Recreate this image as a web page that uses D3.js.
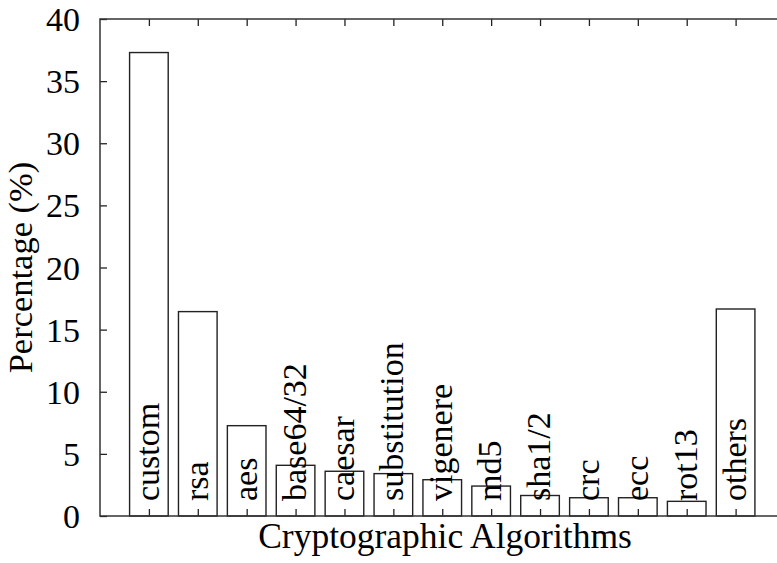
<!DOCTYPE html>
<html>
<head>
<meta charset="utf-8">
<script src="https://cdn.jsdelivr.net/npm/d3@7"></script>
<style>
  html, body { margin: 0; padding: 0; background: #fff; }
  svg { display: block; }
  text { font-family: "Liberation Serif", "Times New Roman", serif; fill: #000; }
</style>
</head>
<body>
<svg id="chart" width="777" height="563"></svg>
<script>
// Share of each cryptographic algorithm (%)
const categories = ["custom", "rsa", "aes", "base64/32", "caesar", "substitution",
  "vigenere", "md5", "sha1/2", "crc", "ecc", "rot13", "others"];
const percentages = [37.3, 16.45, 7.27, 4.08, 3.6, 3.41, 2.92, 2.41, 1.65, 1.47, 1.47, 1.18, 16.66];
const yTicks = [0, 5, 10, 15, 20, 25, 30, 35, 40];
const xTitle = "Cryptographic Algorithms";
const yTitle = "Percentage (%)";

(function draw() {
  const svg = d3.select("#chart");
  const plotL = 100, plotR = 784.5, plotT = 19, plotB = 516;
  const fontSize = 34;
  const tickLen = 7;
  const boxWidth = 0.79;

  const x = d3.scaleLinear().domain([-1, categories.length]).range([plotL, plotR]);
  const y = d3.scaleLinear().domain([0, 40]).range([plotB, plotT]);

  const strokeCol = "#222";

  // Bars
  const barW = x(boxWidth) - x(0);
  svg.append("g").selectAll("rect")
    .data(percentages)
    .join("rect")
    .attr("x", (d, i) => x(i) - barW / 2)
    .attr("y", d => y(d))
    .attr("width", barW)
    .attr("height", d => y(0) - y(d))
    .attr("fill", "#fff")
    .attr("stroke", strokeCol)
    .attr("stroke-width", 1.4);

  // Axes with inward ticks on all four sides
  const idx = d3.range(categories.length);
  const axisLeft = d3.axisLeft(y).tickValues(yTicks).tickSize(-tickLen).tickFormat("");
  const axisRight = d3.axisRight(y).tickValues(yTicks).tickSize(-tickLen).tickFormat("");
  const axisBottom = d3.axisBottom(x).tickValues(idx).tickSize(-tickLen).tickFormat("");
  const axisTop = d3.axisTop(x).tickValues(idx).tickSize(-tickLen).tickFormat("");

  function styleAxis(g) {
    g.select(".domain").remove();
    g.selectAll(".tick line").attr("stroke", strokeCol).attr("stroke-width", 1.3);
  }
  svg.append("g").attr("transform", `translate(${plotL},0)`).call(axisLeft).call(styleAxis);
  svg.append("g").attr("transform", `translate(${plotR},0)`).call(axisRight).call(styleAxis);
  svg.append("g").attr("transform", `translate(0,${plotB})`).call(axisBottom).call(styleAxis);
  svg.append("g").attr("transform", `translate(0,${plotT})`).call(axisTop).call(styleAxis);

  // Frame
  svg.append("rect")
    .attr("x", plotL).attr("y", plotT)
    .attr("width", plotR - plotL).attr("height", plotB - plotT)
    .attr("fill", "none").attr("stroke", "#333").attr("stroke-width", 1.5);

  // Y tick labels
  svg.append("g").selectAll("text")
    .data(yTicks)
    .join("text")
    .attr("x", 80)
    .attr("y", d => y(d) + 12)
    .attr("text-anchor", "end")
    .attr("font-size", fontSize)
    .text(d => d);

  // Category labels, rotated, inside the bars
  svg.append("g").selectAll("text")
    .data(categories)
    .join("text")
    .attr("transform", (d, i) => `translate(${x(i) + 10},501) rotate(-90)`)
    .attr("text-anchor", "start")
    .attr("font-size", fontSize)
    .text(d => d);

  // Axis titles
  svg.append("text")
    .attr("x", 445)
    .attr("y", 548)
    .attr("text-anchor", "middle")
    .attr("font-size", 35.5)
    .text(xTitle);

  svg.append("text")
    .attr("transform", `translate(32,${(plotT + plotB) / 2}) rotate(-90)`)
    .attr("text-anchor", "middle")
    .attr("font-size", 34.5)
    .text(yTitle);
})();
</script>
</body>
</html>
